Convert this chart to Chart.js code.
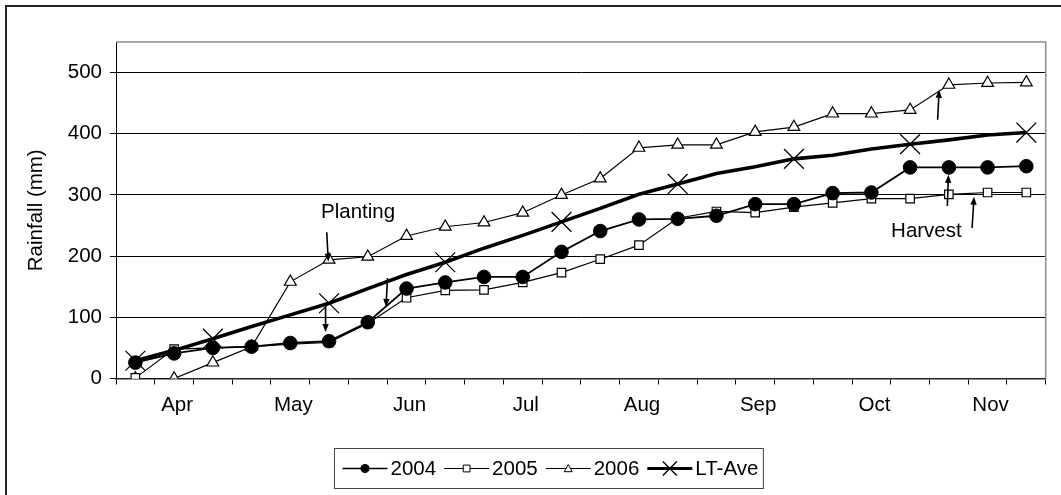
<!DOCTYPE html>
<html><head><meta charset="utf-8">
<script src="https://cdn.jsdelivr.net/npm/chart.js@4/dist/chart.umd.min.js"></script>
<style>html,body{margin:0;padding:0;background:#fff;}canvas{display:block;}</style>
</head><body>
<canvas id="c" width="1061" height="495"></canvas>
<script>
// ---- data ----
const months = ['Apr','May','Jun','Jul','Aug','Sep','Oct','Nov'];
const dekadsPerMonth = 3;
const rain2004 = [26,41,50,52,58,61,92,147,157,166,166,207,241,260,261,266,285,285,303,304,345,345,345,347];
const rain2005 = [1,48,50,52,56,59,90,132,144,145,157,173,195,218,262,273,271,280,287,294,294,301,304,304];
const rain2006 = [0,0,26,52,158,194,199,233,248,255,271,300,327,377,382,382,403,411,433,433,439,480,483,484];
const ltAve    = [29,46,65,85,104,123,147,170,190,213,234,256,278,301,318,335,346,359,365,375,383,390,398,402];
const ltAveMarkerIdx = [0,2,5,8,11,14,17,20,23];
const yTicks = [0,100,200,300,400,500];
const yMax = 550;
const yTitle = 'Rainfall (mm)';
const plantingLabel = {text:'Planting', x:5.75, y:272};
const plantingArrows = [[4.94,239,4.98,191],[4.91,117,4.91,76],[6.51,164,6.47,117]];
const harvestLabel = {text:'Harvest', x:20.42, y:240};
const harvestArrows = [[20.71,423,20.75,472],[20.96,282,20.99,333],[21.6,246,21.65,297]];

const categories = months.flatMap(m => Array.from({length:dekadsPerMonth},(_,k)=>m+' '+(k+1)));

const FONT = 'Liberation Sans, Arial, sans-serif';
const FS = 20.5;
Chart.defaults.font.family = FONT;
Chart.defaults.font.size = FS;
Chart.defaults.color = '#000';

function drawMarker(ctx, style, x, y, r, lw){
  ctx.save();
  ctx.lineWidth = lw; ctx.strokeStyle = '#000';
  ctx.beginPath();
  if(style==='circle'){ ctx.arc(x,y,r,0,Math.PI*2); ctx.fillStyle='#000'; ctx.fill(); }
  else if(style==='rect'){ ctx.fillStyle='#fff'; ctx.rect(x-r,y-r,2*r,2*r); ctx.fill(); ctx.stroke(); }
  else if(style==='triangle'){ ctx.fillStyle='#fff'; ctx.moveTo(x,y-r); ctx.lineTo(x+r,y+r*0.8); ctx.lineTo(x-r,y+r*0.8); ctx.closePath(); ctx.fill(); ctx.stroke(); }
  else if(style==='crossRot'){ ctx.moveTo(x-r,y-r); ctx.lineTo(x+r,y+r); ctx.moveTo(x+r,y-r); ctx.lineTo(x-r,y+r); ctx.stroke(); }
  ctx.restore();
}

function arrow(ctx, x0,y0,x1,y1){
  const ang = Math.atan2(y1-y0,x1-x0), L=8, W=3.2;
  ctx.save();
  ctx.strokeStyle='#000'; ctx.fillStyle='#000'; ctx.lineWidth=1.6;
  ctx.beginPath(); ctx.moveTo(x0,y0);
  ctx.lineTo(x1-Math.cos(ang)*L*0.8, y1-Math.sin(ang)*L*0.8); ctx.stroke();
  ctx.beginPath(); ctx.moveTo(x1,y1);
  ctx.lineTo(x1-Math.cos(ang)*L - Math.sin(ang)*W, y1-Math.sin(ang)*L + Math.cos(ang)*W);
  ctx.lineTo(x1-Math.cos(ang)*L + Math.sin(ang)*W, y1-Math.sin(ang)*L - Math.cos(ang)*W);
  ctx.closePath(); ctx.fill();
  ctx.restore();
}

const legendItems = [
  {label:'2004', style:'circle', r:4.5, lw:1.6, mlw:1},
  {label:'2005', style:'rect', r:3.4, lw:1.2, mlw:1},
  {label:'2006', style:'triangle', r:4, lw:1.2, mlw:1},
  {label:'LT-Ave', style:'crossRot', r:7, lw:3.2, mlw:1.4}
];

const decor = {
  id:'decor',
  beforeDraw(chart){
    const ctx = chart.ctx;
    ctx.save();
    ctx.strokeStyle='#222'; ctx.lineWidth=2;
    ctx.beginPath(); ctx.moveTo(6,495); ctx.lineTo(6,6); ctx.lineTo(1061,6); ctx.stroke();
    ctx.restore();
  },
  beforeDatasetsDraw(chart){
    const {ctx, chartArea:a} = chart;
    ctx.save();
    ctx.strokeStyle='#8a8a8a'; ctx.lineWidth=1.5;
    ctx.beginPath(); ctx.moveTo(a.left,a.top); ctx.lineTo(a.right,a.top); ctx.lineTo(a.right,a.bottom); ctx.stroke();
    ctx.restore();
  },
  afterDatasetsDraw(chart){
    const ctx = chart.ctx, xs = chart.scales.x, ys = chart.scales.y;
    const X = v => xs.getPixelForValue(v), Y = v => ys.getPixelForValue(v);
    [...plantingArrows, ...harvestArrows].forEach(p => arrow(ctx, X(p[0]),Y(p[1]),X(p[2]),Y(p[3])));
    ctx.save();
    ctx.font = FS+'px '+FONT; ctx.fillStyle='#000'; ctx.textAlign='center'; ctx.textBaseline='middle';
    [plantingLabel, harvestLabel].forEach(l => ctx.fillText(l.text, X(l.x), Y(l.y)));
    // legend
    ctx.font = FS+'px '+FONT;
    const lineLen=45, gapT=3, gapI=8, padL=8, padR=5;
    let total = padL + padR;
    legendItems.forEach((it,i)=>{ total += lineLen+gapT+ctx.measureText(it.label).width + (i<legendItems.length-1?gapI:0); });
    const cx = 548, top=448, h=40;
    const left = Math.round(cx-total/2)+0.5;
    ctx.strokeStyle='#444'; ctx.lineWidth=1;
    ctx.fillStyle='#fff'; ctx.fillRect(left, top+0.5, total, h);
    ctx.strokeRect(left, top+0.5, total, h);
    let x = left+padL; const cy = top+20.5;
    ctx.textAlign='left';
    legendItems.forEach(it=>{
      ctx.strokeStyle='#000'; ctx.lineWidth=it.lw;
      ctx.beginPath(); ctx.moveTo(x,cy); ctx.lineTo(x+lineLen,cy); ctx.stroke();
      drawMarker(ctx, it.style, x+lineLen/2, cy, it.r, it.mlw);
      ctx.fillStyle='#000';
      ctx.fillText(it.label, x+lineLen+gapT, cy+1);
      x += lineLen+gapT+ctx.measureText(it.label).width+gapI;
    });
    ctx.restore();
  }
};

new Chart(document.getElementById('c'), {
  type:'line',
  data:{
    labels: categories,
    datasets:[
      {label:'2004', data:rain2004, borderColor:'#000', borderWidth:1.8, pointStyle:'circle', pointRadius:6.8, pointBackgroundColor:'#000', pointBorderColor:'#000', pointBorderWidth:1, tension:0},
      {label:'2005', data:rain2005, borderColor:'#000', borderWidth:1.2, pointStyle:'rect', pointRadius:6, pointBackgroundColor:'#fff', pointBorderColor:'#000', pointBorderWidth:1.2, tension:0},
      {label:'2006', data:rain2006, borderColor:'#000', borderWidth:1.2, pointStyle:'triangle', pointRadius:6.8, pointBackgroundColor:'#fff', pointBorderColor:'#000', pointBorderWidth:1.2, tension:0},
      {label:'LT-Ave', data:ltAve, borderColor:'#000', borderWidth:3.6, pointStyle:'crossRot', pointRadius: ltAve.map((_,i)=> ltAveMarkerIdx.includes(i)?14:0), pointBorderColor:'#000', pointBorderWidth:1.3, tension:0}
    ]
  },
  options:{
    responsive:false, animation:false, devicePixelRatio:1,
    layout:{padding:{left:0, top:42, right:3, bottom:0}},
    plugins:{legend:{display:false}, tooltip:{enabled:false}},
    scales:{
      x:{
        type:'category', offset:true,
        grid:{offset:true, drawOnChartArea:false, drawTicks:true, tickLength:6, color:'#000', lineWidth:1},
        border:{color:'#222', width:1.5},
        ticks:{autoSkip:false, maxRotation:0, minRotation:0, padding:9, labelOffset:3, color:'#000',
          callback:(v,i)=> (i % dekadsPerMonth === 1) ? months[Math.floor(i/dekadsPerMonth)] : ''},
        afterFit(s){ s.height = 116.5; }
      },
      y:{
        min:0, max:yMax,
        afterBuildTicks(s){ s.ticks = yTicks.map(v=>({value:v})); },
        grid:{color:'#000', lineWidth:1, tickLength:6},
        border:{color:'#000', width:1},
        ticks:{padding:8, color:'#000'},
        title:{display:true, text:yTitle, color:'#000', font:{size:FS}, padding:{top:23.7, bottom:0}},
        afterFit(s){ s.width = 116; }
      }
    }
  },
  plugins:[decor]
});
</script>
</body></html>
